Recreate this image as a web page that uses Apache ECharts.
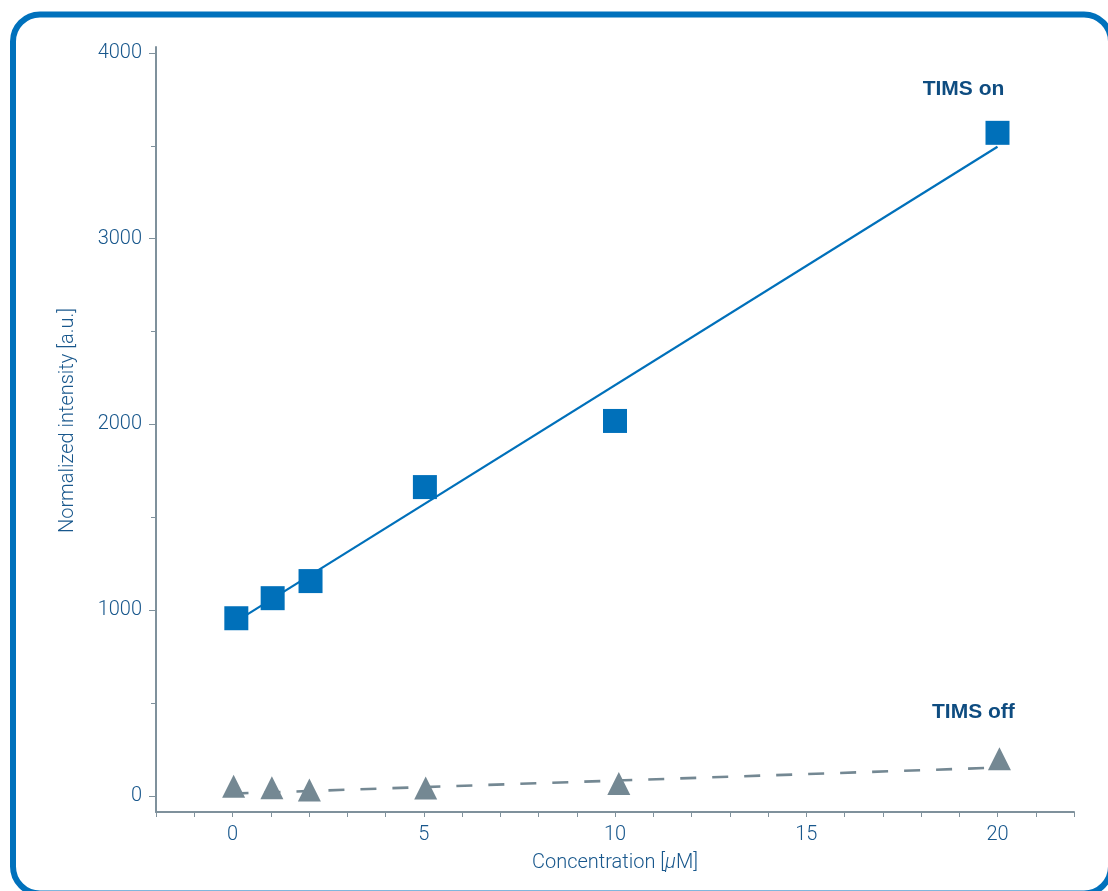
<!DOCTYPE html>
<html>
<head>
<meta charset="utf-8">
<script src="https://cdn.jsdelivr.net/npm/echarts@6/dist/echarts.min.js"></script>
<style>html,body{margin:0;padding:0;background:#fff}#c{width:1108px;height:891px}</style>
</head>
<body>
<div id="c"></div>
<script>
// Data
var onX = [0.1, 1.05, 2.04, 5.03, 10, 20];
var onY = [957, 1065, 1157, 1663, 2019, 3570];
var offX = [0.03, 1.03, 2.01, 5.05, 10.1, 20.05];
var offY = [52, 44, 33, 43, 67, 201];
var onFitX = [0, 20];
var onFitY = [928, 3495];
var offFitX = [0, 20];
var offFitY = [13, 153];
var xLabelValues = [0, 5, 10, 15, 20];
var yLabelValues = [0, 1000, 2000, 3000, 4000];
var yMinorValues = [500, 1500, 2500, 3500];
var seriesNames = ['TIMS on', 'TIMS off'];

function pairs(xs, ys) { return xs.map(function (x, i) { return [x, ys[i]]; }); }

var FONT = 'Roboto';
var FW = 300;
var LABEL_COLOR = '#18578c';
var AXIS_COLOR = '#7f919c';
var BLUE = '#0070ba';
var GREY = '#748893';

var chart = echarts.init(document.getElementById('c'), null, {renderer: 'canvas'});

var onData = pairs(onX, onY);
var offData = pairs(offX, offY);
var lastOn = onData.length - 1, lastOff = offData.length - 1;

var option = {
  animation: false,
  backgroundColor: '#fff',
  grid: {left: 156, right: 34, top: 47, bottom: 79, containLabel: false},
  graphic: [{
    type: 'rect', silent: true, z: 100,
    shape: {x: 13, y: 14.5, width: 1098, height: 879, r: 27},
    style: {fill: 'none', stroke: '#0071bc', lineWidth: 6}
  }],
  xAxis: {
    type: 'value', min: -2, max: 22, interval: 1,
    name: 'Concentration [{i|μ}M]',
    nameLocation: 'middle', nameGap: 41,
    nameTextStyle: {color: LABEL_COLOR, fontFamily: FONT, fontWeight: FW, fontSize: 20,
      rich: {i: {fontStyle: 'italic', color: LABEL_COLOR, fontFamily: FONT, fontWeight: FW, fontSize: 20}}},
    axisLine: {show: true, onZero: false, lineStyle: {color: AXIS_COLOR, width: 2}},
    axisTick: {show: true, length: 5, lineStyle: {color: AXIS_COLOR, width: 1}},
    axisLabel: {customValues: xLabelValues, color: LABEL_COLOR, fontFamily: FONT, fontWeight: FW, fontSize: 20, margin: 13,
      formatter: function (v) { return String(v); }},
    splitLine: {show: false}
  },
  yAxis: [{
    type: 'value', min: -86, max: 4032,
    name: 'Normalized intensity [a.u.]',
    nameLocation: 'middle', nameGap: 78,
    nameTextStyle: {color: LABEL_COLOR, fontFamily: FONT, fontWeight: FW, fontSize: 20, padding: [0, 0, 0, 18]},
    axisLine: {show: true, onZero: false, lineStyle: {color: AXIS_COLOR, width: 2}},
    axisTick: {show: true, length: 7, customValues: yLabelValues, lineStyle: {color: AXIS_COLOR, width: 1}},
    axisLabel: {customValues: yLabelValues, color: LABEL_COLOR, fontFamily: FONT, fontWeight: FW, fontSize: 20, margin: 14,
      formatter: function (v) { return String(v); }},
    splitLine: {show: false}
  }, {
    type: 'value', min: -86, max: 4032, position: 'left', offset: 0,
    axisLine: {show: false, onZero: false},
    axisTick: {show: true, length: 5, customValues: yMinorValues, lineStyle: {color: AXIS_COLOR, width: 1}},
    axisLabel: {show: false, customValues: yMinorValues},
    splitLine: {show: false}
  }],
  series: [{
    name: seriesNames[0] + ' fit', type: 'line', data: pairs(onFitX, onFitY),
    symbol: 'none', lineStyle: {color: BLUE, width: 2.2}, z: 2, silent: true
  }, {
    name: seriesNames[1] + ' fit', type: 'line', data: pairs(offFitX, offFitY),
    symbol: 'none', lineStyle: {color: GREY, width: 2.6, type: [16, 16]}, z: 2, silent: true
  }, {
    name: seriesNames[0], type: 'scatter', symbol: 'rect', symbolSize: 24,
    itemStyle: {color: BLUE, opacity: 1}, z: 3,
    data: onData.map(function (d, i) {
      var o = {value: d};
      if (i === lastOn) o.label = {show: true, formatter: seriesNames[0], position: 'inside', offset: [-34, -44],
        color: '#0e4c80', fontFamily: 'Liberation Sans', fontWeight: 'bold', fontSize: 21};
      return o;
    })
  }, {
    name: seriesNames[1], type: 'scatter', symbol: 'triangle', symbolSize: [23, 23],
    itemStyle: {color: GREY, opacity: 1}, z: 3,
    data: offData.map(function (d, i) {
      var o = {value: d};
      if (i === lastOff) o.label = {show: true, formatter: seriesNames[1], position: 'inside', offset: [-26, -46],
        color: '#0e4c80', fontFamily: 'Liberation Sans', fontWeight: 'bold', fontSize: 21};
      return o;
    })
  }]
};
chart.setOption(option);
</script>
</body>
</html>
